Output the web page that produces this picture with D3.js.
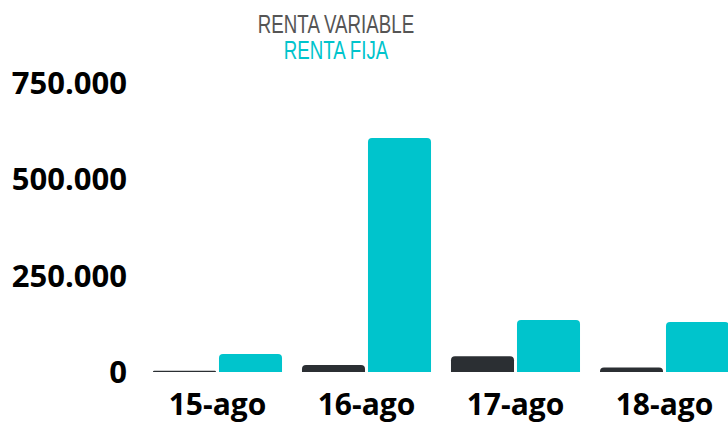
<!DOCTYPE html>
<html>
<head>
<meta charset="utf-8">
<script src="https://cdn.jsdelivr.net/npm/d3@7"></script>
<style>
  body { margin: 0; background: #fff; }
  svg { display: block; }
</style>
</head>
<body>
<svg id="chart" width="728" height="423"></svg>
<script>
// data
const fechas = ["15-ago", "16-ago", "17-ago", "18-ago"];
const series = ["RENTA VARIABLE", "RENTA FIJA"];
const rentaVariable = [2000, 18000, 41000, 12000];
const rentaFija = [47000, 607000, 135000, 130000];
const yTicks = [0, 250000, 500000, 750000];

const colors = { "RENTA VARIABLE": "#2b2f33", "RENTA FIJA": "#00c4cc" };
const legendColors = { "RENTA VARIABLE": "#555555", "RENTA FIJA": "#00c4cc" };

const svg = d3.select("#chart");

const x = d3.scaleBand()
  .domain(fechas)
  .range([143, 739])
  .paddingInner(0.134)
  .paddingOuter(0.067);

const xSub = d3.scaleBand()
  .domain(series)
  .range([0, x.bandwidth()])
  .paddingInner(0.045);

const y = d3.scaleLinear().domain([0, 750000]).range([372, 83]);

// y axis labels
const fmt = (v) => d3.format(",")(v).replace(/,/g, ".");
svg.append("g")
  .selectAll("text")
  .data(yTicks)
  .join("text")
  .attr("x", 127)
  .attr("y", (d) => y(d))
  .attr("dy", "0.36em")
  .attr("text-anchor", "end")
  .attr("font-family", "'Open Sans', sans-serif")
  .attr("font-weight", 700)
  .attr("font-size", 31)
  .attr("fill", "#000")
  .text(fmt);

// bars with rounded top corners
const rows = fechas.map((f, i) => ({
  fecha: f,
  values: [
    { key: "RENTA VARIABLE", value: rentaVariable[i] },
    { key: "RENTA FIJA", value: rentaFija[i] },
  ],
}));

const topRounded = (x0, y0, w, h, r) => {
  r = Math.min(r, h, w / 2);
  return `M${x0},${y0 + h}V${y0 + r}Q${x0},${y0} ${x0 + r},${y0}H${x0 + w - r}Q${x0 + w},${y0} ${x0 + w},${y0 + r}V${y0 + h}Z`;
};

svg.append("g")
  .selectAll("g")
  .data(rows)
  .join("g")
  .attr("transform", (d) => `translate(${x(d.fecha)},0)`)
  .selectAll("path")
  .data((d) => d.values)
  .join("path")
  .attr("fill", (d) => colors[d.key])
  .attr("d", (d) => {
    const h = Math.max(1.2, y(0) - y(d.value));
    return topRounded(xSub(d.key), y(0) - h, xSub.bandwidth(), h, 4);
  });

// x labels
svg.append("g")
  .selectAll("text")
  .data(fechas)
  .join("text")
  .attr("x", (d) => x(d) + x.bandwidth() / 2)
  .attr("y", 415)
  .attr("text-anchor", "middle")
  .attr("font-family", "'Open Sans', sans-serif")
  .attr("font-weight", 700)
  .attr("font-size", 30)
  .attr("fill", "#000")
  .text((d) => d);

// legend
const legend = svg.append("g");
series.forEach((s, i) => {
  legend.append("text")
    .attr("transform", `translate(336,${33 + i * 25.5}) scale(0.72,1)`)
    .attr("text-anchor", "middle")
    .attr("font-family", "'Liberation Sans Narrow', sans-serif")
    .attr("font-size", 26)
    .attr("fill", legendColors[s])
    .text(s);
});
</script>
</body>
</html>
